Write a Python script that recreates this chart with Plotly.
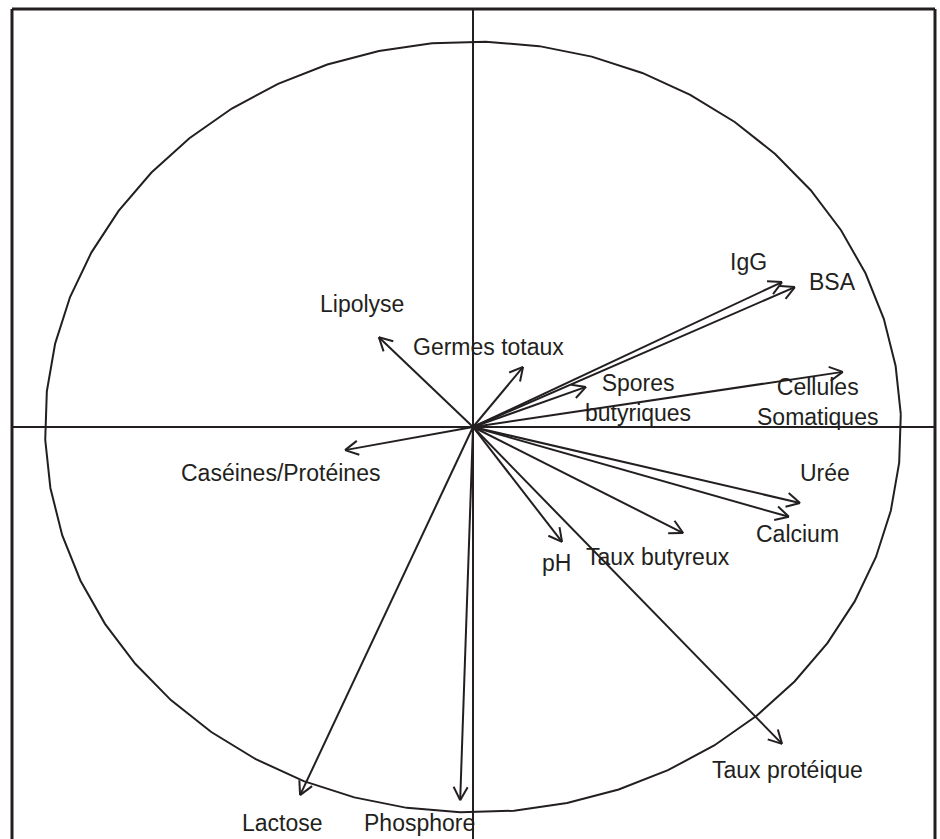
import numpy as np
import plotly.graph_objects as go

# ---- data: correlation circle coordinates (axis 1, axis 2) ----
variables = ["IgG", "BSA", "Cellules Somatiques", "Spores butyriques", "Germes totaux",
             "Lipolyse", "Caséines/Protéines", "Urée", "Calcium", "Taux butyreux",
             "pH", "Taux protéique", "Lactose", "Phosphore"]
axis1 = [0.722, 0.752, 0.864, 0.264, 0.117, -0.220, -0.299, 0.764, 0.738, 0.491,
         0.208, 0.722, -0.404, -0.030]
axis2 = [0.376, 0.363, 0.143, 0.104, 0.156, 0.233, -0.060, -0.197, -0.233, -0.275,
         -0.298, -0.822, -0.955, -0.968]

# label texts and their anchor points
label_text = ["IgG", "BSA", "Cellules<br>Somatiques", "Spores<br>butyriques",
              "Germes totaux", "Lipolyse", "Caséines/Protéines", "Urée", "Calcium",
              "Taux butyreux", "pH", "Taux protéique", "Lactose", "Phosphore"]
label_x = [0.643, 0.841, 0.804, 0.385,
           0.037, -0.259, -0.449, 0.822, 0.759,
           0.432, 0.194, 0.734, -0.444, -0.124]
label_y = [0.428, 0.376, 0.066, 0.075,
           0.208, 0.319, -0.119, -0.119, -0.277,
           -0.337, -0.353, -0.890, -1.027, -1.027]

# ---- layout geometry ----
W, H = 940, 839
ML, MR, MT, MB = 12, 5, 9, 0
XR = [-1.0771, 1.0794]
YR = [-1.0687, 1.0843]
sx = (W - ML - MR) / (XR[1] - XR[0])
sy = (H - MT - MB) / (YR[1] - YR[0])

INK = "#231f20"

# arrows: shaft + open V head (head computed in pixel space)
HEAD_LEN = 15.0
HEAD_ANG = np.deg2rad(28)
ax_x, ax_y = [], []
for x, y in zip(axis1, axis2):
    ax_x += [0, x, None]
    ax_y += [0, y, None]
    px, py = x * sx, y * sy
    n = np.hypot(px, py)
    ux, uy = px / n, py / n
    for s in (1, -1):
        c, si = np.cos(s * HEAD_ANG), np.sin(s * HEAD_ANG)
        rx, ry = ux * c - uy * si, ux * si + uy * c
        ex, ey = px - HEAD_LEN * rx, py - HEAD_LEN * ry
        ax_x += [ex / sx, x, None]
        ax_y += [ey / sy, y, None]

# unit circle drawn as polygon
N = 50
phase = np.deg2rad(1.9)
th = phase + np.linspace(0, 2 * np.pi, N + 1)
cx, cy = np.cos(th), np.sin(th)

fig = go.Figure()
fig.add_trace(go.Scatter(x=cx, y=cy, mode="lines", line=dict(color=INK, width=2),
                         hoverinfo="skip", showlegend=False))
fig.add_trace(go.Scatter(x=ax_x, y=ax_y, mode="lines", line=dict(color=INK, width=2),
                         hoverinfo="skip", showlegend=False))

for t, lx, ly in zip(label_text, label_x, label_y):
    fig.add_annotation(x=lx, y=ly, text=t, showarrow=False, xanchor="center", yanchor="middle",
                       font=dict(family="Liberation Sans, Arial, sans-serif", size=23, color=INK),
                       align="center")

shapes = [
    # axes through the origin
    dict(type="line", xref="x", yref="y", x0=XR[0], x1=XR[1], y0=0, y1=0,
         line=dict(color=INK, width=2)),
    dict(type="line", xref="x", yref="y", x0=0, x1=0, y0=YR[0], y1=YR[1],
         line=dict(color=INK, width=2)),
    # frame (left, top, right)
    dict(type="line", xref="paper", yref="paper", x0=0, x1=0, y0=0, y1=1,
         line=dict(color=INK, width=3)),
    dict(type="line", xref="paper", yref="paper", x0=0, x1=1, y0=1, y1=1,
         line=dict(color=INK, width=3)),
    dict(type="line", xref="paper", yref="paper", x0=1, x1=1, y0=0, y1=1,
         line=dict(color=INK, width=3)),
]

fig.update_layout(
    width=W, height=H,
    margin=dict(l=ML, r=MR, t=MT, b=MB, pad=0),
    paper_bgcolor="white", plot_bgcolor="white",
    xaxis=dict(range=XR, visible=False, fixedrange=True),
    yaxis=dict(range=YR, visible=False, fixedrange=True),
    shapes=shapes,
    showlegend=False,
)

fig.write_html("out.html",
               config={"displayModeBar": False},
               post_script="document.body.style.margin='0';document.body.style.padding='0';document.body.style.overflow='hidden';")
